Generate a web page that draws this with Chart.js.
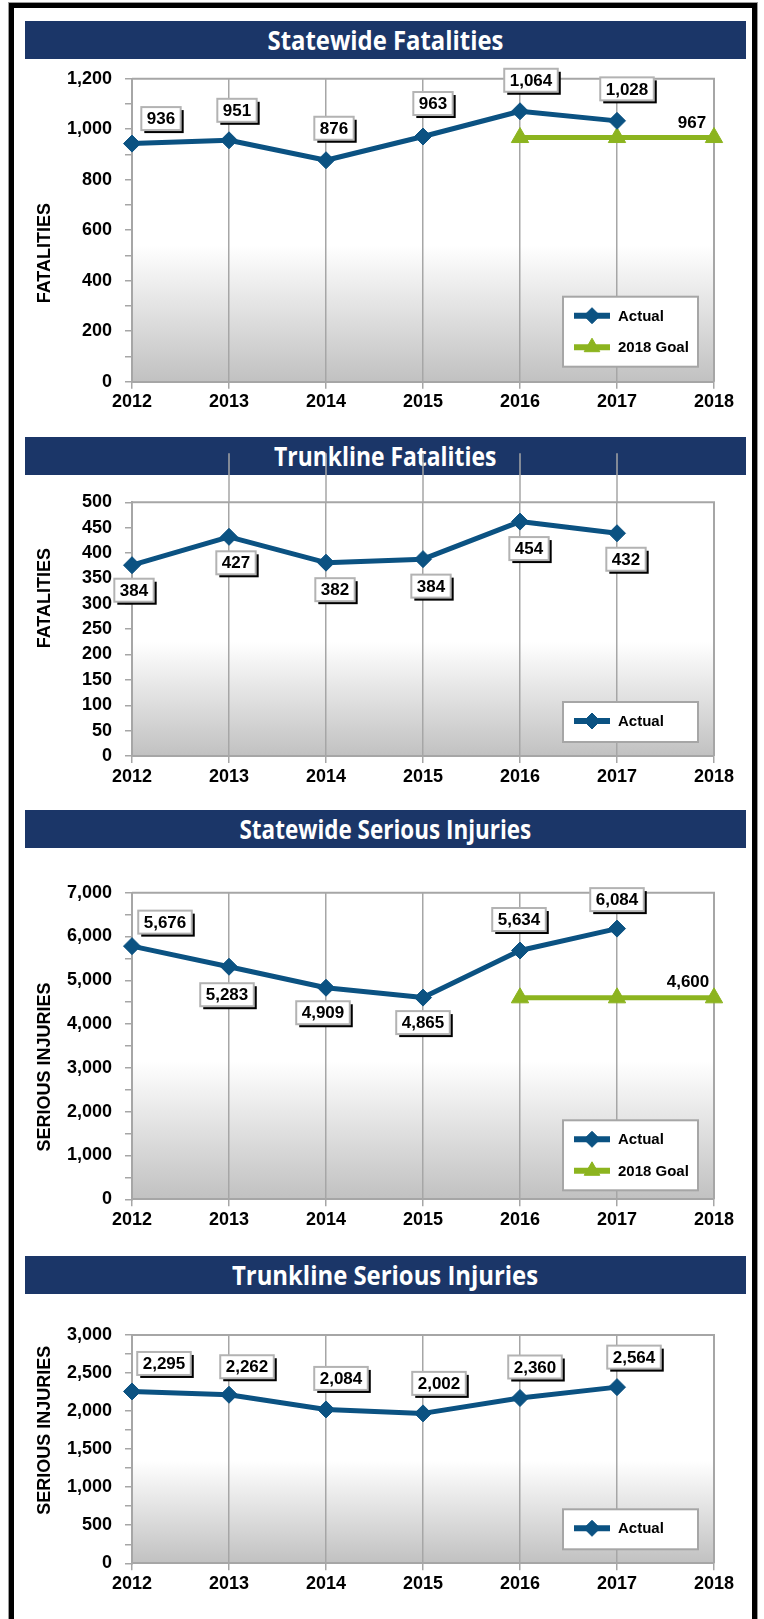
<!DOCTYPE html>
<html>
<head>
<meta charset="utf-8">
<script src="https://cdn.jsdelivr.net/npm/chart.js@4.4.0/dist/chart.umd.min.js"></script>
<style>
html, body { margin: 0; padding: 0; background: #fff; }
body { width: 764px; height: 1619px; position: relative; overflow: hidden; }
#frame { position: absolute; left: 9px; top: 3px; width: 748px; height: 1700px; border: 5px solid #000; box-sizing: border-box; box-shadow: 0 0 0 1px #9a9a9a; }
.bar { position: absolute; left: 25px; width: 721px; height: 38px; background: #1b3668; color: #fff; text-align: center; z-index: 1;
       font: 700 27px 'Open Sans', sans-serif; line-height: 38px; white-space: nowrap; }
.bar span { display: inline-block; transform-origin: center; }
canvas { position: absolute; left: 0; z-index: 2; }
</style>
</head>
<body>
<div id="frame"></div>
<div class="bar" style="top:21px"><span data-w="236">Statewide Fatalities</span></div>
<div class="bar" style="top:437px"><span data-w="222">Trunkline Fatalities</span></div>
<div class="bar" style="top:810px"><span data-w="292">Statewide Serious Injuries</span></div>
<div class="bar" style="top:1256px"><span data-w="306">Trunkline Serious Injuries</span></div>

<canvas id="c1" width="764" height="395" style="top:40px"></canvas>
<canvas id="c2" width="764" height="355" style="top:440px"></canvas>
<canvas id="c3" width="764" height="400" style="top:850px"></canvas>
<canvas id="c4" width="764" height="324" style="top:1295px"></canvas>

<script>
// data
const years = ['2012', '2013', '2014', '2015', '2016', '2017', '2018'];

// statewide fatalities
const swFatal = [943, 956, 877, 971, 1071, 1033, null];
const swFatalText = [936, 951, 876, 963, 1064, 1028, null];
const swFatalGoal = [null, null, null, null, 967, 967, 967];
const swFatalGoalText = [null, null, null, null, null, null, 967];

// trunkline fatalities
const tlFatal = [376, 432, 381, 388, 462, 439, null];
const tlFatalText = [384, 427, 382, 384, 454, 432, null];

// statewide serious injuries
const swInj = [5780, 5310, 4830, 4605, 5680, 6180, null];
const swInjText = [5676, 5283, 4909, 4865, 5634, 6084, null];
const swInjGoal = [null, null, null, null, 4600, 4600, 4600];
const swInjGoalText = [null, null, null, null, null, null, 4600];

// trunkline serious injuries
const tlInj = [2258, 2215, 2022, 1970, 2172, 2315, null];
const tlInjText = [2295, 2262, 2084, 2002, 2360, 2564, null];

const BLUE = '#0b5282';
const GREEN = '#8cb41f';
const GRID = '#a6a6a6';
const FONT = '"Liberation Sans", Arial, sans-serif';
const PLOT_LEFT = 132, PLOT_RIGHT = 714, X_AXIS_H = 36;

// squeeze the title text to the width of the original condensed face
document.querySelectorAll('.bar span').forEach(function(s) {
    s.style.transform = 'scaleX(' + (s.dataset.w / s.offsetWidth) + ')';
});

const framePlugin = {
    id: 'frame',
    beforeDraw(chart) {
        const ctx = chart.ctx, a = chart.chartArea;
        const g = ctx.createLinearGradient(0, a.top, 0, a.bottom);
        g.addColorStop(0, '#ffffff');
        g.addColorStop(0.55, '#ffffff');
        g.addColorStop(1, '#c1c1c1');
        ctx.save();
        ctx.fillStyle = g;
        ctx.fillRect(a.left, a.top, a.right - a.left, a.bottom - a.top);
        ctx.restore();
    },
    beforeDatasetsDraw(chart, args, opts) {
        const ctx = chart.ctx, a = chart.chartArea;
        ctx.save();
        ctx.strokeStyle = GRID;
        ctx.lineWidth = 2;
        ctx.beginPath();
        ctx.moveTo(a.left, a.top);
        ctx.lineTo(a.right, a.top);
        ctx.lineTo(a.right, a.bottom);
        ctx.stroke();
        // gridlines poking up above the plot (chart 2 only)
        if (opts.gridAbove) {
            ctx.lineWidth = 1.5;
            for (let i = 1; i < years.length - 1; i++) {
                const x = chart.scales.x.getPixelForValue(i);
                ctx.beginPath();
                ctx.moveTo(x, a.top - opts.gridAbove);
                ctx.lineTo(x, a.top);
                ctx.stroke();
            }
        }
        ctx.restore();
    }
};

const labelPlugin = {
    id: 'boxLabels',
    afterDatasetsDraw(chart) {
        const ctx = chart.ctx;
        chart.data.datasets.forEach(function(ds, di) {
            if (!ds.valueText) return;
            const meta = chart.getDatasetMeta(di);
            ds.valueText.forEach(function(v, i) {
                if (v == null) return;
                const pt = meta.data[i];
                const off = ds.labelOffsets[i];
                const txt = v.toLocaleString('en-US');
                const cx = pt.x + off[0], cy = pt.y + off[1];
                ctx.save();
                ctx.font = 'bold 17px ' + FONT;
                ctx.textAlign = 'center';
                ctx.textBaseline = 'middle';
                if (ds.boxed !== false) {
                    const w = ctx.measureText(txt).width + 11, h = 23;
                    ctx.fillStyle = '#000';
                    ctx.fillRect(cx - w / 2 + 3, cy - h / 2 + 3, w, h);
                    ctx.fillStyle = '#fff';
                    ctx.fillRect(cx - w / 2, cy - h / 2, w, h);
                    ctx.strokeStyle = '#b3b3b3';
                    ctx.lineWidth = 2;
                    ctx.strokeRect(cx - w / 2, cy - h / 2, w, h);
                }
                ctx.fillStyle = '#000';
                ctx.fillText(txt, cx, cy + 1);
                ctx.restore();
            });
        });
    }
};

const boxLegendPlugin = {
    id: 'boxLegend',
    afterDraw(chart, args, opts) {
        const ctx = chart.ctx, a = chart.chartArea;
        const sets = chart.data.datasets;
        const w = 135, h = sets.length > 1 ? 70 : 40;
        const L = a.right - opts.right - w, T = a.bottom - opts.bottom - h;
        ctx.save();
        ctx.fillStyle = '#fff';
        ctx.fillRect(L, T, w, h);
        ctx.strokeStyle = '#a6a6a6';
        ctx.lineWidth = 2;
        ctx.strokeRect(L, T, w, h);
        sets.forEach(function(ds, i) {
            const y = T + 19 + 31.5 * i;
            ctx.strokeStyle = ds.borderColor;
            ctx.fillStyle = ds.borderColor;
            ctx.lineWidth = 6;
            ctx.beginPath();
            ctx.moveTo(L + 11, y);
            ctx.lineTo(L + 47, y);
            ctx.stroke();
            ctx.lineWidth = 1;
            Chart.helpers.drawPoint(ctx, { pointStyle: ds.pointStyle, radius: ds.pointStyle === 'triangle' ? 9 : 8, rotation: 0, borderWidth: 1 }, L + 29, y);
            ctx.fillStyle = '#000';
            ctx.font = 'bold 15px ' + FONT;
            ctx.textAlign = 'left';
            ctx.textBaseline = 'middle';
            ctx.fillText(ds.label, L + 55, y + 1);
        });
        ctx.restore();
    }
};

const sideTitlePlugin = {
    id: 'sideTitle',
    afterDraw(chart, args, opts) {
        const ctx = chart.ctx, a = chart.chartArea;
        ctx.save();
        ctx.translate(45, (a.top + a.bottom) / 2 + opts.shift);
        ctx.rotate(-Math.PI / 2);
        ctx.font = 'bold 18px ' + FONT;
        ctx.fillStyle = '#000';
        ctx.textAlign = 'center';
        ctx.textBaseline = 'middle';
        ctx.fillText(opts.text, 0, 0);
        ctx.restore();
    }
};

function actualSet(values, text, offsets) {
    return {
        label: 'Actual', data: values, valueText: text, labelOffsets: offsets,
        borderColor: BLUE, backgroundColor: BLUE, borderWidth: 5, borderJoinStyle: 'round',
        pointStyle: 'rectRot', pointRadius: 8.5, pointBorderWidth: 1, pointHoverRadius: 8.5
    };
}

function goalSet(values, text, offsets) {
    return {
        label: '2018 Goal', data: values, valueText: text, labelOffsets: offsets, boxed: false,
        borderColor: GREEN, backgroundColor: GREEN, borderWidth: 5,
        pointStyle: 'triangle', pointRadius: 10, pointBorderWidth: 1, pointHoverRadius: 10
    };
}

function build(id, datasets, o) {
    const canvas = document.getElementById(id);
    const top = parseFloat(canvas.style.top), h = canvas.height;
    const tickFont = { family: FONT, size: 18, weight: 'bold' };
    return new Chart(canvas, {
        type: 'line',
        data: { labels: years, datasets: datasets },
        options: {
            responsive: false,
            animation: false,
            layout: { padding: { left: 0, right: 764 - PLOT_RIGHT, top: o.plotTop - top, bottom: h - X_AXIS_H - (o.plotBottom - top) } },
            scales: {
                x: {
                    offset: false,
                    ticks: { color: '#000', font: tickFont, padding: 3, maxRotation: 0, autoSkip: false },
                    grid: { color: GRID, lineWidth: 1.5, tickLength: 7 },
                    border: { color: GRID, width: 2 },
                    afterFit: function(s) { s.height = X_AXIS_H; }
                },
                y: {
                    min: 0, max: o.yMax,
                    ticks: {
                        stepSize: o.yStep, autoSkip: false, padding: 13, color: '#000', font: tickFont,
                        callback: function(v) { return v % o.yEvery === 0 ? v.toLocaleString('en-US') : ''; }
                    },
                    grid: { drawOnChartArea: false, color: GRID, lineWidth: 1.5, tickLength: 7 },
                    border: { color: GRID, width: 2 },
                    afterFit: function(s) { s.width = PLOT_LEFT; }
                }
            },
            plugins: {
                legend: { display: false },
                tooltip: { enabled: false },
                frame: { gridAbove: o.gridAbove || 0 },
                boxLegend: { right: 16, bottom: o.legendBottom },
                sideTitle: { text: o.yTitle, shift: o.titleShift }
            }
        },
        plugins: [framePlugin, labelPlugin, boxLegendPlugin, sideTitlePlugin]
    });
}

build('c1', [
    actualSet(swFatal, swFatalText, [[29, -25], [8, -30], [8, -32], [10, -33], [11, -31], [10, -32]]),
    goalSet(swFatalGoal, swFatalGoalText, [null, null, null, null, null, null, [-22, -15]])
], { plotTop: 78.7, plotBottom: 381.7, yMax: 1200, yStep: 100, yEvery: 200, yTitle: 'FATALITIES', titleShift: 23, legendBottom: 15 });

build('c2', [
    actualSet(tlFatal, tlFatalText, [[2, 25], [7, 26], [9, 27], [8, 27], [9, 27], [9, 26]])
], { plotTop: 502.3, plotBottom: 756, yMax: 500, yStep: 50, yEvery: 50, yTitle: 'FATALITIES', titleShift: -31, legendBottom: 14, gridAbove: 49 });

build('c3', [
    actualSet(swInj, swInjText, [[33, -24], [-2, 28], [-3, 25], [0, 25], [-1, -31], [0, -29]]),
    goalSet(swInjGoal, swInjGoalText, [null, null, null, null, null, null, [-26, -17]])
], { plotTop: 892.7, plotBottom: 1199.3, yMax: 7000, yStep: 500, yEvery: 1000, yTitle: 'SERIOUS INJURIES', titleShift: 21, legendBottom: 9 });

build('c4', [
    actualSet(tlInj, tlInjText, [[32, -28], [18, -28], [15, -31], [16, -30], [15, -31], [17, -30]])
], { plotTop: 1335, plotBottom: 1563.3, yMax: 3000, yStep: 250, yEvery: 500, yTitle: 'SERIOUS INJURIES', titleShift: -19, legendBottom: 14 });
</script>
</body>
</html>
